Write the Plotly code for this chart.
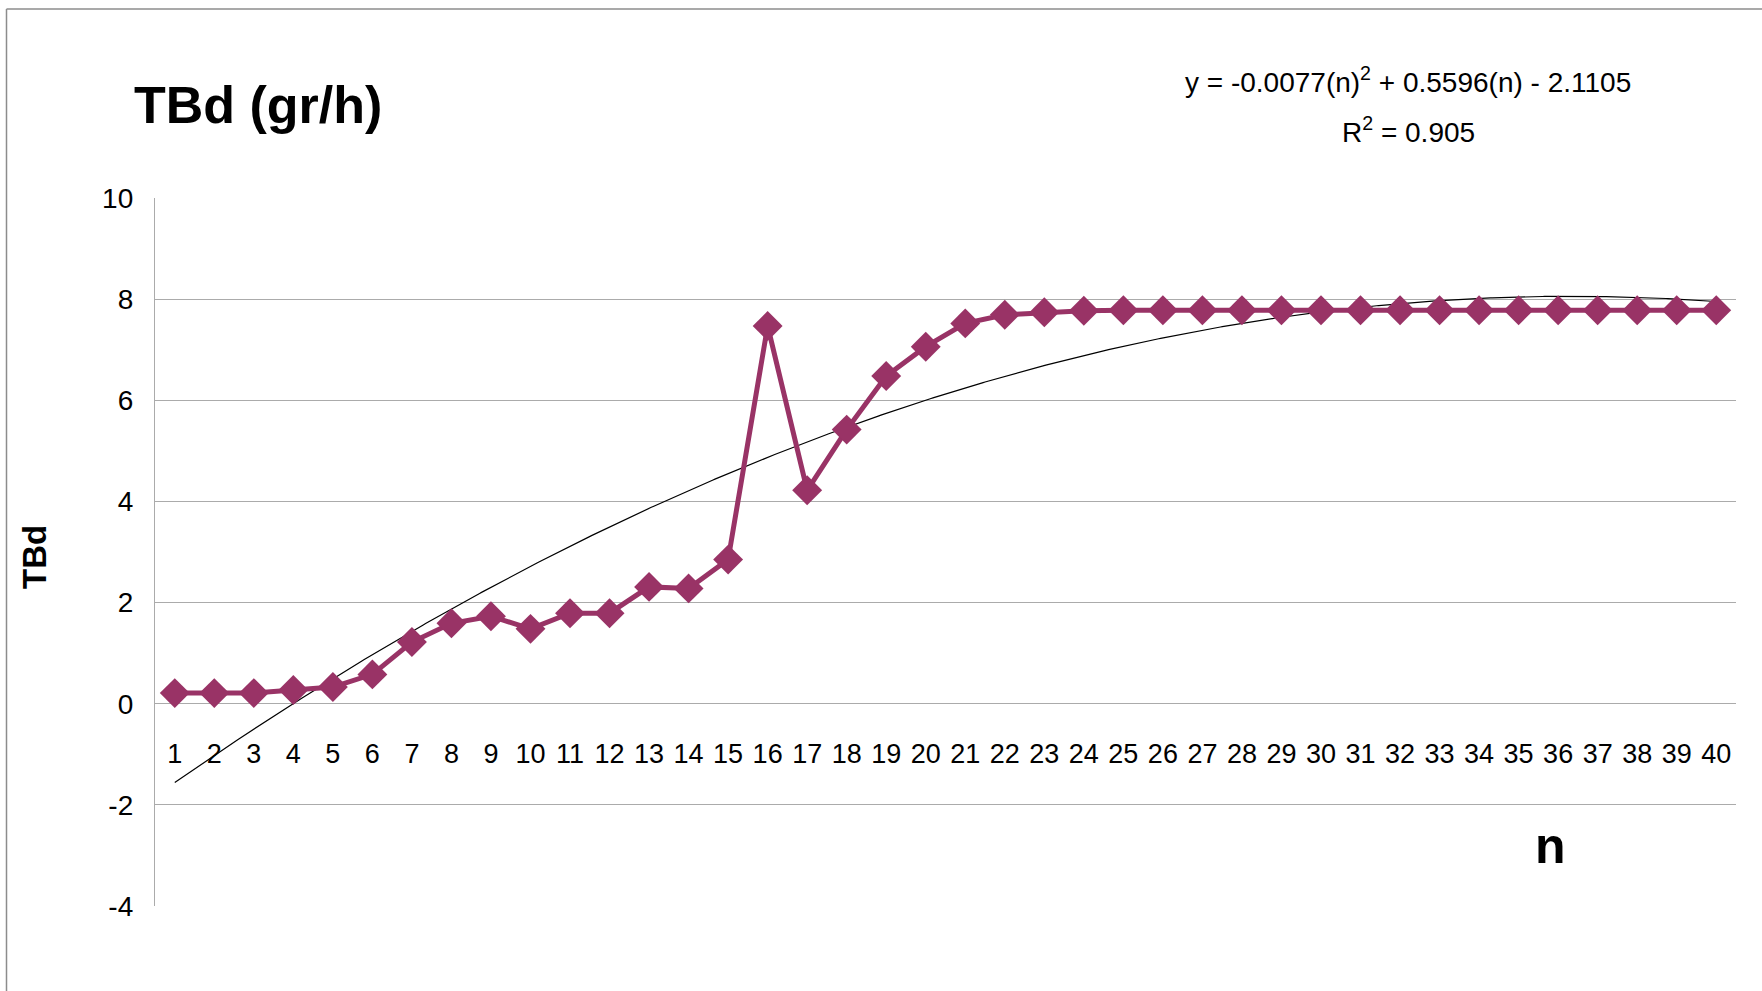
import numpy as np
import plotly.graph_objects as go

# Measured TBd values for each step n
n_values = list(range(1, 41))
tbd_values = [0.21, 0.21, 0.21, 0.27, 0.33, 0.58, 1.22, 1.59, 1.73, 1.48,
              1.79, 1.79, 2.31, 2.28, 2.85, 7.47, 4.22, 5.42, 6.48, 7.06,
              7.52, 7.69, 7.74, 7.77, 7.78, 7.78, 7.78, 7.78, 7.78, 7.78,
              7.78, 7.78, 7.78, 7.78, 7.78, 7.78, 7.78, 7.78, 7.78, 7.78]

# Second-order polynomial trendline coefficients (a*n^2 + b*n + c)
trend_a, trend_b, trend_c = -0.0077, 0.5596, -2.1105
r_squared = 0.905

y_ticks = [-4, -2, 0, 2, 4, 6, 8, 10]
y_tick_text = ["-4", "-2", "0", "2", "4", "6", "8", "10"]

FONT = "Liberation Sans Narrow, Arial Narrow, Liberation Sans, Arial, sans-serif"
SERIES_COLOR = "#993366"
GRID_COLOR = "#ababab"

n_fine = np.linspace(n_values[0], n_values[-1], 800)
trend_fine = trend_a * n_fine ** 2 + trend_b * n_fine + trend_c

fig = go.Figure()

fig.add_trace(go.Scatter(
    x=n_fine, y=trend_fine, mode="lines",
    line=dict(color="black", width=1.2),
    hoverinfo="skip", showlegend=False,
))

fig.add_trace(go.Scatter(
    x=n_values, y=tbd_values, mode="lines+markers",
    line=dict(color=SERIES_COLOR, width=5),
    marker=dict(symbol="diamond", size=23, color=SERIES_COLOR),
    showlegend=False,
))

W, H = 1762, 991
L, R, T, B = 155, 26, 198, 85
pw, ph = W - L - R, H - T - B


def px(xp):
    return (xp - L) / pw


def py(yp):
    return (H - B - yp) / ph


fig.update_layout(
    width=W, height=H,
    margin=dict(l=L, r=R, t=T, b=B),
    paper_bgcolor="white", plot_bgcolor="white",
    font=dict(family=FONT, color="black"),
    xaxis=dict(
        range=[0.5, 40.5],
        tickmode="array", tickvals=n_values,
        ticktext=[str(v) for v in n_values],
        tickfont=dict(size=27, family=FONT),
        showgrid=False, zeroline=False,
        showline=False,
        anchor="free", position=(0 - y_ticks[0]) / (y_ticks[-1] - y_ticks[0]),
        ticks="outside", ticklen=26, tickcolor="rgba(0,0,0,0)",
    ),
    yaxis=dict(
        range=[y_ticks[0], y_ticks[-1]],
        tickmode="array", tickvals=y_ticks, ticktext=y_tick_text,
        tickfont=dict(size=28, family=FONT),
        showgrid=True, gridcolor=GRID_COLOR, gridwidth=1.3,
        zeroline=False,
        showline=True, linecolor=GRID_COLOR, linewidth=1.3,
        ticks="outside", ticklen=15, tickcolor="rgba(0,0,0,0)",
    ),
    shapes=[
        dict(type="line", xref="paper", yref="paper",
             x0=px(6.5), x1=px(6.5), y0=py(1000), y1=py(9),
             line=dict(color="#8c8c8c", width=1.5)),
        dict(type="line", xref="paper", yref="paper",
             x0=px(6.5), x1=px(1800), y0=py(9), y1=py(9),
             line=dict(color="#8c8c8c", width=1.5)),
    ],
    annotations=[
        dict(text="<b>TBd (gr/h)</b>", xref="paper", yref="paper",
             x=px(132), y=py(105), xanchor="left", yanchor="middle",
             showarrow=False, font=dict(size=52, family=FONT)),
        dict(text="<b>TBd</b>", xref="paper", yref="paper",
             x=px(34), y=py(557), xanchor="center", yanchor="middle",
             textangle=-90, showarrow=False, font=dict(size=33, family=FONT)),
        dict(text="<b>n</b>", xref="paper", yref="paper",
             x=px(1550), y=py(846), xanchor="center", yanchor="middle",
             showarrow=False, font=dict(size=50, family=FONT)),
        dict(text=f"y = {trend_a}(n)<sup>2</sup> + {trend_b}(n) - {abs(trend_c)}",
             xref="paper", yref="paper",
             x=px(1408), y=py(80), xanchor="center", yanchor="middle",
             showarrow=False, font=dict(size=28, family=FONT)),
        dict(text=f"R<sup>2</sup> = {r_squared}",
             xref="paper", yref="paper",
             x=px(1408), y=py(130), xanchor="center", yanchor="middle",
             showarrow=False, font=dict(size=28, family=FONT)),
    ],
)

fig.write_html("out.html")
